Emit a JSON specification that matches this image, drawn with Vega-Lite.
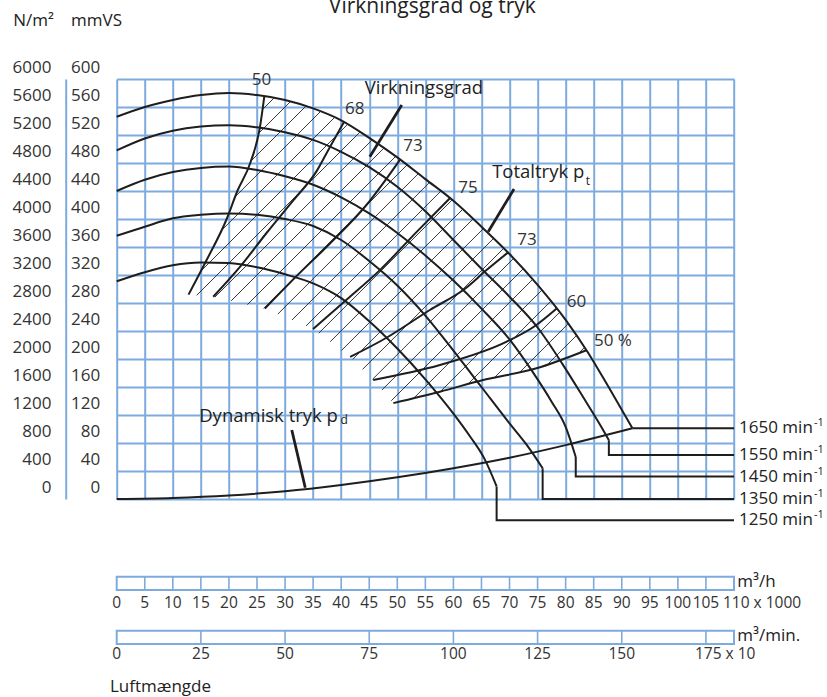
{
  "$schema": "https://vega.github.io/schema/vega-lite/v6.json",
  "width": 617.3,
  "height": 420,
  "autosize": "none",
  "padding": {"left": 116.7, "top": 79, "right": 93, "bottom": 198},
  "background": "white",
  "config": {"font": "Open Sans", "view": {"stroke": null}},
  "title": {"text": "Virkningsgrad og tryk", "font": "Open Sans", "fontSize": 21, "fontWeight": "normal", "color": "#222", "anchor": "middle", "frame": "group", "dx": 7, "offset": -6},
  "datasets": {
    "speed": [
      {"c":"1650","x":0,"y":546},{"c":"1650","x":5,"y":560},{"c":"1650","x":10,"y":570},{"c":"1650","x":15,"y":577},{"c":"1650","x":20,"y":580},{"c":"1650","x":25,"y":577},{"c":"1650","x":30,"y":570},{"c":"1650","x":35,"y":558},{"c":"1650","x":40,"y":541},{"c":"1650","x":45,"y":516},{"c":"1650","x":50,"y":488},{"c":"1650","x":55,"y":457},{"c":"1650","x":60,"y":426},{"c":"1650","x":65,"y":389},{"c":"1650","x":70,"y":350},{"c":"1650","x":75,"y":306},{"c":"1650","x":80,"y":256},{"c":"1650","x":84,"y":209},{"c":"1650","x":87.5,"y":162},{"c":"1650","x":91.9,"y":101},
      {"c":"1550","x":0,"y":498},{"c":"1550","x":5,"y":515},{"c":"1550","x":10,"y":526},{"c":"1550","x":15,"y":532},{"c":"1550","x":20,"y":534},{"c":"1550","x":25,"y":531},{"c":"1550","x":30,"y":524},{"c":"1550","x":35,"y":513},{"c":"1550","x":40,"y":496},{"c":"1550","x":45,"y":474},{"c":"1550","x":50,"y":446},{"c":"1550","x":55,"y":411},{"c":"1550","x":60,"y":370},{"c":"1550","x":65,"y":329},{"c":"1550","x":70,"y":289},{"c":"1550","x":75,"y":245},{"c":"1550","x":79.5,"y":192},{"c":"1550","x":83,"y":147},{"c":"1550","x":86.5,"y":101},{"c":"1550","x":87.7,"y":84},
      {"c":"1450","x":0,"y":440},{"c":"1450","x":5,"y":456},{"c":"1450","x":10,"y":467},{"c":"1450","x":15,"y":473},{"c":"1450","x":20,"y":475},{"c":"1450","x":25,"y":470},{"c":"1450","x":30,"y":461},{"c":"1450","x":35,"y":449},{"c":"1450","x":40,"y":431},{"c":"1450","x":45,"y":408},{"c":"1450","x":50,"y":380},{"c":"1450","x":55,"y":348},{"c":"1450","x":60,"y":312},{"c":"1450","x":65,"y":272},{"c":"1450","x":70,"y":228},{"c":"1450","x":74,"y":183},{"c":"1450","x":77.5,"y":139},{"c":"1450","x":80,"y":103},{"c":"1450","x":81.8,"y":60},
      {"c":"1350","x":0,"y":376},{"c":"1350","x":5,"y":389},{"c":"1350","x":10,"y":401},{"c":"1350","x":15,"y":406},{"c":"1350","x":20,"y":408},{"c":"1350","x":25,"y":406},{"c":"1350","x":30,"y":400},{"c":"1350","x":35,"y":390},{"c":"1350","x":40,"y":370},{"c":"1350","x":45,"y":340},{"c":"1350","x":50,"y":305},{"c":"1350","x":55,"y":262},{"c":"1350","x":60,"y":212},{"c":"1350","x":65,"y":160},{"c":"1350","x":70,"y":108},{"c":"1350","x":73,"y":78},{"c":"1350","x":75.9,"y":44},
      {"c":"1250","x":0,"y":311},{"c":"1250","x":5,"y":324},{"c":"1250","x":10,"y":334},{"c":"1250","x":15,"y":338},{"c":"1250","x":20,"y":337},{"c":"1250","x":25,"y":331},{"c":"1250","x":30,"y":321},{"c":"1250","x":35,"y":308},{"c":"1250","x":40,"y":287},{"c":"1250","x":45,"y":254},{"c":"1250","x":50,"y":215},{"c":"1250","x":55,"y":171},{"c":"1250","x":60,"y":122},{"c":"1250","x":63,"y":89},{"c":"1250","x":65.5,"y":58},{"c":"1250","x":67.7,"y":18},
      {"c":"pd","x":0,"y":0},{"c":"pd","x":10,"y":1.5},{"c":"pd","x":20,"y":5},{"c":"pd","x":30,"y":11},{"c":"pd","x":40,"y":20},{"c":"pd","x":50,"y":31},{"c":"pd","x":60,"y":44},{"c":"pd","x":70,"y":59},{"c":"pd","x":80,"y":77},{"c":"pd","x":91.9,"y":101}
    ],
    "tails": [
      {"c":"1650","i":1,"x":91.9,"y":101},{"c":"1650","i":2,"x":110,"y":101},
      {"c":"1550","i":1,"x":87.7,"y":84},{"c":"1550","i":2,"x":87.7,"y":63},{"c":"1550","i":3,"x":110,"y":63},
      {"c":"1450","i":1,"x":81.8,"y":60},{"c":"1450","i":2,"x":81.8,"y":32},{"c":"1450","i":3,"x":110,"y":32},
      {"c":"1350","i":1,"x":75.9,"y":44},{"c":"1350","i":2,"x":75.9,"y":0},{"c":"1350","i":3,"x":110,"y":0},
      {"c":"1250","i":1,"x":67.7,"y":18},{"c":"1250","i":2,"x":67.7,"y":-30.4},{"c":"1250","i":3,"x":110,"y":-30.4}
    ],
    "eff": [
      {"c":"L1","x":12.8,"y":292},{"c":"L1","x":16,"y":341},{"c":"L1","x":19.6,"y":400},{"c":"L1","x":21.5,"y":440},{"c":"L1","x":23.8,"y":480},{"c":"L1","x":25.5,"y":530},{"c":"L1","x":26.3,"y":575},
      {"c":"L2","x":17.2,"y":289},{"c":"L2","x":22,"y":332},{"c":"L2","x":26.7,"y":380},{"c":"L2","x":31.5,"y":427},{"c":"L2","x":35.6,"y":468},{"c":"L2","x":38,"y":503},{"c":"L2","x":40.5,"y":538.5},
      {"c":"L3","x":26.4,"y":272},{"c":"L3","x":32,"y":318},{"c":"L3","x":38,"y":365},{"c":"L3","x":44.5,"y":420},{"c":"L3","x":50.5,"y":484.9},
      {"c":"L4","x":35,"y":243},{"c":"L4","x":41,"y":285},{"c":"L4","x":46.9,"y":327},{"c":"L4","x":53.5,"y":382},{"c":"L4","x":59.4,"y":430},
      {"c":"L5","x":41.6,"y":203},{"c":"L5","x":48,"y":230},{"c":"L5","x":55.8,"y":270},{"c":"L5","x":62,"y":300},{"c":"L5","x":65.9,"y":327},{"c":"L5","x":69.7,"y":352},
      {"c":"L6","x":45.7,"y":170},{"c":"L6","x":57.6,"y":191.4},{"c":"L6","x":69.5,"y":224.7},{"c":"L6","x":74.8,"y":248.6},{"c":"L6","x":78.4,"y":272},
      {"c":"L7","x":49.3,"y":137},{"c":"L7","x":57.6,"y":153.3},{"c":"L7","x":65.3,"y":170},{"c":"L7","x":74.8,"y":186.7},{"c":"L7","x":83.7,"y":212.5}
    ],
    "hatch": [
      {"x":28.01,"y":572.7,"x2":25.97,"y2":556.3},
      {"x":30.96,"y":567.7,"x2":25.22,"y2":521.8},
      {"x":33.70,"y":561.1,"x2":23.89,"y2":482.6},
      {"x":36.31,"y":553.5,"x2":21.10,"y2":431.7},
      {"x":38.81,"y":545.0,"x2":18.52,"y2":382.4},
      {"x":41.15,"y":535.2,"x2":14.98,"y2":325.4},
      {"x":43.35,"y":524.2,"x2":14.26,"y2":291.0},
      {"x":45.52,"y":513.0,"x2":17.50,"y2":288.4},
      {"x":47.58,"y":501.0,"x2":20.40,"y2":283.1},
      {"x":49.72,"y":489.6,"x2":23.29,"y2":277.7},
      {"x":51.74,"y":477.2,"x2":26.18,"y2":272.4},
      {"x":53.75,"y":464.8,"x2":28.72,"y2":264.2},
      {"x":55.75,"y":452.3,"x2":31.23,"y2":255.7},
      {"x":57.77,"y":439.9,"x2":33.74,"y2":247.2},
      {"x":59.78,"y":427.4,"x2":36.01,"y2":236.9},
      {"x":61.65,"y":413.8,"x2":38.04,"y2":224.6},
      {"x":63.50,"y":400.1,"x2":40.07,"y2":212.3},
      {"x":65.34,"y":386.3,"x2":42.04,"y2":199.5},
      {"x":67.15,"y":372.2,"x2":43.81,"y2":185.2},
      {"x":68.96,"y":358.1,"x2":45.59,"y2":171.0},
      {"x":70.72,"y":343.7,"x2":47.26,"y2":155.7},
      {"x":72.42,"y":328.7,"x2":48.93,"y2":140.4},
      {"x":74.12,"y":313.8,"x2":52.93,"y2":144.0},
      {"x":75.76,"y":298.4,"x2":57.62,"y2":153.0},
      {"x":77.35,"y":282.6,"x2":62.55,"y2":163.9},
      {"x":78.93,"y":266.7,"x2":67.32,"y2":173.6},
      {"x":80.47,"y":250.5,"x2":71.91,"y2":181.8},
      {"x":81.92,"y":233.5,"x2":76.88,"y2":193.1},
      {"x":83.36,"y":216.5,"x2":82.49,"y2":209.5}
    ],
    "pointers": [
      {"x":50.8,"y":562.9,"x2":45.1,"y2":489},
      {"x":70.8,"y":442.9,"x2":66.2,"y2":381.9},
      {"x":31.2,"y":98.6,"x2":33.6,"y2":16}
    ],
    "words": [
      {"t":"Virkningsgrad","x":44.2,"y":586.7},
      {"t":"Totaltryk p","x":66.9,"y":467.6},
      {"t":"Dynamisk tryk p","x":14.7,"y":118.6}
    ],
    "nums": [
      {"t":"50","x":24.05,"y":598.6},
      {"t":"68","x":40.7,"y":557},
      {"t":"73","x":51.07,"y":504.7},
      {"t":"75","x":60.87,"y":443.9},
      {"t":"73","x":71.38,"y":370},
      {"t":"60","x":80.19,"y":281},
      {"t":"50 %","x":85.05,"y":225.7}
    ],
    "subs": [
      {"t":"t","x":83.6,"y":455},
      {"t":"d","x":39.9,"y":112.5}
    ],
    "speedlab": [
      {"t":"1650 min","x":110.9,"y":101},
      {"t":"1550 min","x":110.9,"y":63},
      {"t":"1450 min","x":110.9,"y":32},
      {"t":"1350 min","x":110.9,"y":0},
      {"t":"1250 min","x":110.9,"y":-30.4}
    ],
    "bars": [
      {"x":0,"x2":110,"y":-111,"y2":-130},
      {"x":0,"x2":110,"y":-188.1,"y2":-207.1}
    ],
    "barticks": [
      {"x":5,"y":-111,"y2":-130},{"x":10,"y":-111,"y2":-130},{"x":15,"y":-111,"y2":-130},{"x":20,"y":-111,"y2":-130},{"x":25,"y":-111,"y2":-130},{"x":30,"y":-111,"y2":-130},{"x":35,"y":-111,"y2":-130},{"x":40,"y":-111,"y2":-130},{"x":45,"y":-111,"y2":-130},{"x":50,"y":-111,"y2":-130},{"x":55,"y":-111,"y2":-130},{"x":60,"y":-111,"y2":-130},{"x":65,"y":-111,"y2":-130},{"x":70,"y":-111,"y2":-130},{"x":75,"y":-111,"y2":-130},{"x":80,"y":-111,"y2":-130},{"x":85,"y":-111,"y2":-130},{"x":90,"y":-111,"y2":-130},{"x":95,"y":-111,"y2":-130},{"x":100,"y":-111,"y2":-130},{"x":105,"y":-111,"y2":-130},
      {"x":15,"y":-188.1,"y2":-207.1},{"x":30,"y":-188.1,"y2":-207.1},{"x":45,"y":-188.1,"y2":-207.1},{"x":60,"y":-188.1,"y2":-207.1},{"x":75,"y":-188.1,"y2":-207.1},{"x":90,"y":-188.1,"y2":-207.1},{"x":105,"y":-188.1,"y2":-207.1}
    ],
    "ticklab": [
      {"t":"0","x":0,"y":-149},{"t":"5","x":5,"y":-149},{"t":"10","x":10,"y":-149},{"t":"15","x":15,"y":-149},{"t":"20","x":20,"y":-149},{"t":"25","x":25,"y":-149},{"t":"30","x":30,"y":-149},{"t":"35","x":35,"y":-149},{"t":"40","x":40,"y":-149},{"t":"45","x":45,"y":-149},{"t":"50","x":50,"y":-149},{"t":"55","x":55,"y":-149},{"t":"60","x":60,"y":-149},{"t":"65","x":65,"y":-149},{"t":"70","x":70,"y":-149},{"t":"75","x":75,"y":-149},{"t":"80","x":80,"y":-149},{"t":"85","x":85,"y":-149},{"t":"90","x":90,"y":-149},{"t":"95","x":95,"y":-149},{"t":"100","x":100,"y":-149},{"t":"105","x":105,"y":-149},
      {"t":"0","x":0,"y":-222},{"t":"25","x":15,"y":-222},{"t":"50","x":30,"y":-222},{"t":"75","x":45,"y":-222},{"t":"100","x":60,"y":-222},{"t":"125","x":75,"y":-222},{"t":"150","x":90,"y":-222}
    ],
    "endlab": [
      {"t":"110 x 1000","x":110,"y":-149},
      {"t":"175 x 10","x":105,"y":-222}
    ],
    "units": [
      {"t":"m³/h","x":110.6,"y":-119},
      {"t":"m³/min.","x":110.6,"y":-195.7},
      {"t":"Luftmængde","x":-1.2,"y":-268.6}
    ]
  },
  "layer": [
    {
      "encoding": {
        "x": {"field": "x", "type": "quantitative", "scale": {"domain": [0, 110], "nice": false, "zero": false},
          "axis": {"values": [0,5,10,15,20,25,30,35,40,45,50,55,60,65,70,75,80,85,90,95,100,105,110], "grid": true, "gridColor": "#7dabdd", "gridWidth": 2, "gridOpacity": 1, "labels": false, "ticks": false, "domain": false, "title": null}},
        "y": {"field": "y", "type": "quantitative", "scale": {"domain": [0, 600], "nice": false, "zero": false},
          "axis": {"values": [0,40,80,120,160,200,240,280,320,360,400,440,480,520,560,600], "format": "d", "grid": true, "gridColor": "#7dabdd", "gridWidth": 2, "gridOpacity": 1, "domain": false, "ticks": false, "labelPadding": 17, "labelOffset": -12, "labelFlush": false, "labelFont": "Open Sans", "labelFontSize": 17, "labelColor": "#333",
            "title": "mmVS", "titleAngle": 0, "titleX": -20.7, "titleY": -59, "titleAlign": "center", "titleBaseline": "middle", "titleFont": "Open Sans", "titleFontSize": 17, "titleFontWeight": "normal", "titleColor": "#222"}}
      },
      "layer": [
        {"data": {"name": "hatch"}, "mark": {"type": "rule", "color": "#222", "strokeWidth": 0.9}, "encoding": {"x2": {"field": "x2"}, "y2": {"field": "y2"}}},
        {"data": {"name": "speed"}, "mark": {"type": "line", "interpolate": "monotone", "color": "#1e1e1e", "strokeWidth": 2}, "encoding": {"detail": {"field": "c"}}},
        {"data": {"name": "tails"}, "mark": {"type": "line", "color": "#1e1e1e", "strokeWidth": 2}, "encoding": {"detail": {"field": "c"}, "order": {"field": "i"}}},
        {"data": {"name": "eff"}, "mark": {"type": "line", "interpolate": "monotone", "color": "#1e1e1e", "strokeWidth": 2}, "encoding": {"detail": {"field": "c"}}},
        {"data": {"name": "pointers"}, "mark": {"type": "rule", "color": "#1e1e1e", "strokeWidth": 2.8}, "encoding": {"x2": {"field": "x2"}, "y2": {"field": "y2"}}},
        {"data": {"name": "bars"}, "mark": {"type": "rect", "fill": "white", "stroke": "#7dabdd", "strokeWidth": 2}, "encoding": {"x2": {"field": "x2"}, "y2": {"field": "y2"}}},
        {"data": {"name": "barticks"}, "mark": {"type": "rule", "color": "#7dabdd", "strokeWidth": 1.6}, "encoding": {"y2": {"field": "y2"}}},
        {"data": {"name": "words"}, "mark": {"type": "text", "align": "left", "baseline": "middle", "font": "Open Sans", "fontSize": 18.5, "color": "#222"}, "encoding": {"text": {"field": "t"}}},
        {"data": {"name": "nums"}, "mark": {"type": "text", "align": "left", "baseline": "middle", "font": "Open Sans", "fontSize": 17, "color": "#333"}, "encoding": {"text": {"field": "t"}}},
        {"data": {"name": "subs"}, "mark": {"type": "text", "align": "left", "baseline": "middle", "font": "Open Sans", "fontSize": 12, "color": "#222"}, "encoding": {"text": {"field": "t"}}},
        {"data": {"name": "speedlab"}, "mark": {"type": "text", "align": "left", "baseline": "middle", "font": "Open Sans", "fontSize": 17, "color": "#222"}, "encoding": {"text": {"field": "t"}}},
        {"data": {"name": "speedlab"}, "mark": {"type": "text", "align": "left", "baseline": "middle", "font": "Open Sans", "fontSize": 11, "color": "#222", "dx": 75, "dy": -5}, "encoding": {"text": {"value": "-1"}}},
        {"data": {"name": "ticklab"}, "mark": {"type": "text", "align": "center", "baseline": "middle", "font": "Open Sans", "fontSize": 15.5, "color": "#333"}, "encoding": {"text": {"field": "t"}}},
        {"data": {"name": "endlab"}, "mark": {"type": "text", "align": "left", "baseline": "middle", "font": "Open Sans", "fontSize": 15.5, "color": "#333", "dx": -11}, "encoding": {"text": {"field": "t"}}},
        {"data": {"name": "units"}, "mark": {"type": "text", "align": "left", "baseline": "middle", "font": "Open Sans", "fontSize": 17, "color": "#222"}, "encoding": {"text": {"field": "t"}}}
      ]
    },
    {
      "data": {"values": [{"pa": 0}, {"pa": 6000}]},
      "mark": {"type": "point", "opacity": 0},
      "encoding": {
        "y": {"field": "pa", "type": "quantitative", "scale": {"domain": [0, 6000], "nice": false, "zero": false},
          "axis": {"orient": "left", "offset": 51, "values": [0,400,800,1200,1600,2000,2400,2800,3200,3600,4000,4400,4800,5200,5600,6000], "format": "d", "grid": false, "domain": true, "domainColor": "#7dabdd", "domainWidth": 2, "ticks": false, "labelPadding": 14.7, "labelOffset": -12, "labelFlush": false, "labelFont": "Open Sans", "labelFontSize": 17, "labelColor": "#333",
            "title": "N/m²", "titleAngle": 0, "titleX": -32.7, "titleY": -59, "titleAlign": "center", "titleBaseline": "middle", "titleFont": "Open Sans", "titleFontSize": 17, "titleFontWeight": "normal", "titleColor": "#222"}}
      }
    }
  ],
  "resolve": {"scale": {"y": "independent"}}
}
